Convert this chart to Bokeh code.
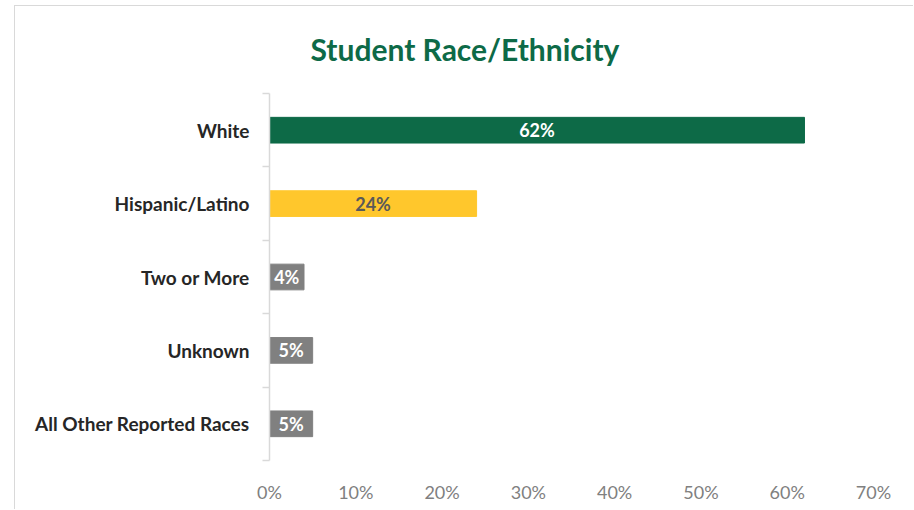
from bokeh.plotting import figure
from bokeh.models import FixedTicker, ColumnDataSource, NumeralTickFormatter
from bokeh.core.properties import value
from bokeh.embed import file_html
from bokeh.resources import INLINE

categories = ["White", "Hispanic/Latino", "Two or More", "Unknown", "All Other Reported Races"]
percents = [62, 24, 4, 5, 5]
bar_colors = ["#0D6A47", "#FFC72C", "#808080", "#808080", "#808080"]
label_colors = ["#FFFFFF", "#595959", "#FFFFFF", "#FFFFFF", "#FFFFFF"]
x_ticks = [0, 10, 20, 30, 40, 50, 60, 70]
title_text = "Student Race/Ethnicity"

n = len(categories)
ypos = [n - 1 - i + 0.5 for i in range(n)]
src = ColumnDataSource(dict(
    y=ypos, x=percents, mid=[v / 2 for v in percents],
    color=bar_colors, lcolor=label_colors,
    label=[f"{v}%" for v in percents],
))

FONT = "Lato"
p = figure(width=899, height=504, output_backend="svg", toolbar_location=None,
           x_range=(0, 70), y_range=(0, n),
           min_border_left=254, min_border_right=41, min_border_top=86, min_border_bottom=50,
           margin=(5, 0, 0, 14))
p.styles = {"border-left": "1px solid #d9d9d9", "border-top": "1px solid #d9d9d9"}

p.hbar(y="y", right="x", left=0, height=0.35, color="color", source=src)
p.text(x="mid", y="y", text="label", text_color="lcolor", text_align="center",
       text_baseline="middle", text_font=value(FONT), text_font_style="bold",
       text_font_size="18px", source=src)

p.title.text = title_text
p.title.text_font = FONT
p.title.text_font_size = "30px"
p.title.text_font_style = "bold"
p.title.text_color = "#0D6A47"
p.title.align = "left"
p.title.offset = 41
p.title.standoff = 49
p.title.text_line_height = 0.8
p.title.vertical_align = "top"

p.grid.visible = False
p.outline_line_color = None

xa = p.xaxis[0]
xa.ticker = FixedTicker(ticks=x_ticks)
xa.formatter = NumeralTickFormatter(format="0")
xa.major_label_overrides = {t: f"{t}%" for t in x_ticks}
xa.axis_line_color = None
xa.major_tick_line_color = None
xa.minor_tick_line_color = None
xa.major_tick_out = 0
xa.major_label_standoff = 20
xa.major_label_text_font = FONT
xa.major_label_text_font_size = "18px"
xa.major_label_text_color = "#808080"

ya = p.yaxis[0]
ya.ticker = FixedTicker(ticks=ypos, minor_ticks=list(range(n + 1)))
ya.major_label_overrides = {y: c for y, c in zip(ypos, categories)}
ya.axis_line_color = "#D9D9D9"
ya.axis_line_width = 1.5
ya.major_tick_line_color = None
ya.major_tick_out = 0
ya.major_tick_in = 0
ya.minor_tick_line_color = "#D9D9D9"
ya.minor_tick_line_width = 1.5
ya.minor_tick_out = 7
ya.minor_tick_in = 0
ya.major_label_standoff = 13
ya.major_label_text_font = FONT
ya.major_label_text_font_style = "bold"
ya.major_label_text_font_size = "19px"
ya.major_label_text_color = "#262626"

open("out.html", "w").write(file_html(p, INLINE))
